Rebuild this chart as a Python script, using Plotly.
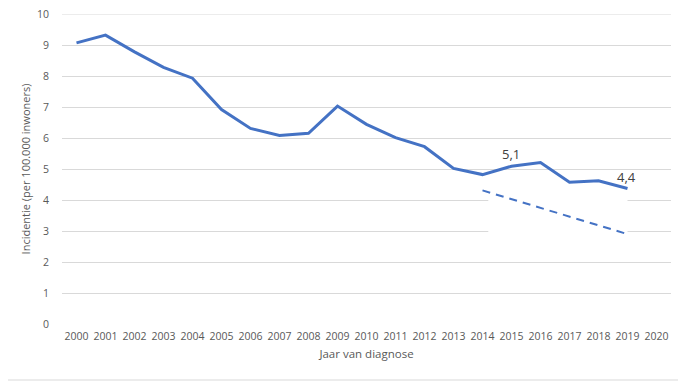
import plotly.graph_objects as go

years = list(range(2000, 2020))
incidence = [9.07, 9.32, 8.78, 8.28, 7.93, 6.92, 6.31, 6.08, 6.15, 7.03,
             6.44, 6.01, 5.72, 5.02, 4.82, 5.09, 5.21, 4.57, 4.62, 4.37]
trend_years = [2014, 2019]
trend_values = [4.31, 2.9]
label_years = [2015, 2019]
label_values = [5.09, 4.37]
label_texts = ["5,1", "4,4"]
tick_years = list(range(2000, 2021))
y_ticks = list(range(0, 11))

blue = "#4472C4"
grey_text = "#595959"
grid = "#D9D9D9"

# the page places the figure 8px from the top-left corner
W, H = 678, 374
L, R, T, B = 54, 15, 6, 58
PW, PH = W - L - R, H - T - B

fig = go.Figure()
fig.add_trace(go.Scatter(x=years, y=incidence, mode="lines",
                         line=dict(color=blue, width=3), showlegend=False,
                         hoverinfo="skip"))
fig.add_trace(go.Scatter(x=trend_years, y=trend_values, mode="lines",
                         line=dict(color=blue, width=2, dash="8px,6px"),
                         showlegend=False, hoverinfo="skip"))
for lx, ly, lt in zip(label_years, label_values, label_texts):
    fig.add_annotation(x=lx, y=ly, text=lt, showarrow=False, yshift=12,
                       xshift=-1,
                       font=dict(family="Open Sans", size=13, color="#404040"))

# top gridline (at the edge of the plot area)
fig.add_shape(type="line", xref="paper", yref="y", x0=0, x1=1,
              y0=max(y_ticks), y1=max(y_ticks), line=dict(color=grid, width=1),
              layer="between")
# white patch behind the dashed line (gridlines interrupted there)
fig.add_shape(type="rect", xref="x", yref="y", x0=2014.2, x1=2019.0, y0=2.5, y1=4.6,
              fillcolor="white", line=dict(width=0), layer="between")
# outer border (right and bottom edges visible inside the figure)
bx = (675 - L) / PW
by = (T + PH - 372) / PH
fig.add_shape(type="line", xref="paper", yref="paper", x0=bx, x1=bx,
              y0=by, y1=(T + PH) / PH, line=dict(color=grid, width=1))
fig.add_shape(type="line", xref="paper", yref="paper", x0=-L / PW, x1=bx,
              y0=by, y1=by, line=dict(color=grid, width=1))

fig.update_layout(
    width=W, height=H,
    margin=dict(l=L, r=R, t=T, b=B),
    paper_bgcolor="white", plot_bgcolor="white",
    font=dict(family="Open Sans", size=10.5, color=grey_text),
    xaxis=dict(range=[1999.5, 2020.5], tickmode="array", tickvals=tick_years,
               ticktext=[str(t) for t in tick_years], showgrid=False,
               zeroline=False, showline=False, ticks="", ticklabelstandoff=4,
               automargin=False, ticklabeloverflow="allow",
               title=dict(text="Jaar van diagnose", standoff=8,
                          font=dict(size=11.5, color=grey_text))),
    yaxis=dict(range=[0, 10], tickmode="array", tickvals=y_ticks,
               showgrid=True, gridcolor=grid, gridwidth=1, zeroline=False,
               showline=False, ticks="", ticklabelstandoff=12,
               automargin=False, ticklabeloverflow="allow",
               title=dict(text="Incidentie (per 100.000 inwoners)", standoff=4,
                          font=dict(size=11, color=grey_text))),
)

fig.write_html("out.html")
